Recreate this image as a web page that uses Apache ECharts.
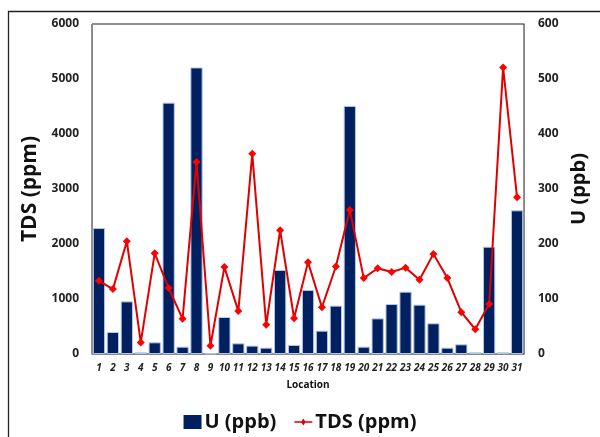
<!DOCTYPE html>
<html><head><meta charset="utf-8">
<script src="https://cdn.jsdelivr.net/npm/echarts@6/dist/echarts.min.js"></script>
<style>html,body{margin:0;padding:0;background:#fff}#c{width:600px;height:437px}</style>
</head><body><div id="c"></div>
<script>
const categories = ['1','2','3','4','5','6','7','8','9','10','11','12','13','14','15','16','17','18','19','20','21','22','23','24','25','26','27','28','29','30','31'];
const uValues = [2290,400,957,30,212,4570,133,5210,10,673,194,152,115,1527,164,1164,424,879,4510,133,648,909,1133,897,558,115,176,30,1951,30,2612];
const tdsValues = [133,118,205,21,183,120,64,349,15,158,78,364,53,225,65,167,85,159,262,138,156,149,157,135,182,138,76,45,91,521,285];
const leftTicks = [0,1000,2000,3000,4000,5000,6000];
const rightTicks = [0,100,200,300,400,500,600];

const chart = echarts.init(document.getElementById('c'));
const font = '"Open Sans", "Noto Sans", sans-serif';
chart.setOption({
  animation:false,
  graphic:[{type:'polyline',shape:{points:[[8.5,437],[8.5,11.5],[600,11.5]]},style:{stroke:'#222',lineWidth:1.3,fill:null}}],
  grid:{left:92,right:76,top:24,bottom:83,show:true,borderColor:'#222',borderWidth:1},
  legend:{bottom:0,left:'center',itemGap:18,textStyle:{fontSize:20,fontWeight:'bold',color:'#111',fontFamily:font,padding:[0,0,0,-2]},
    data:[{name:'U (ppb)',icon:'rect',itemStyle:{borderWidth:0}},
          {name:'TDS (ppm)',icon:'path://M0,6.2L7.2,6.2L9,3.5L10.8,6.2L18,6.2L18,7.8L10.8,7.8L9,10.5L7.2,7.8L0,7.8Z',itemStyle:{borderWidth:0,color:'#e00000'}}],
    itemWidth:18,itemHeight:14},
  xAxis:{type:'category',data:categories,name:'Location',nameLocation:'middle',nameGap:26,
    nameTextStyle:{fontSize:10,fontWeight:'bold',color:'#111',fontFamily:font},
    axisLine:{lineStyle:{color:'#888'}},axisTick:{show:false},
    axisLabel:{fontStyle:'italic',fontWeight:'bold',fontSize:10,color:'#222',interval:0,margin:9,fontFamily:font}},
  yAxis:[
    {type:'value',min:0,max:6000,interval:1000,name:'TDS (ppm)',nameLocation:'middle',nameGap:46,
     nameTextStyle:{fontSize:21,fontWeight:'bold',color:'#111',fontFamily:font},
     axisLine:{show:true,lineStyle:{color:'#888'}},axisTick:{show:false},splitLine:{show:false},
     axisLabel:{fontWeight:'bold',fontSize:12,color:'#222',margin:13,fontFamily:font,
       formatter:v=>leftTicks.includes(v)?String(v):''}},
    {type:'value',min:0,max:600,interval:100,name:'U (ppb)',nameLocation:'middle',nameGap:43,nameRotate:90,
     nameTextStyle:{fontSize:20,fontWeight:'bold',color:'#111',fontFamily:font},
     axisLine:{show:true,lineStyle:{color:'#888'}},axisTick:{show:false},splitLine:{show:false},
     axisLabel:{fontWeight:'bold',fontSize:12,color:'#222',margin:14,fontFamily:font,
       formatter:v=>rightTicks.includes(v)?String(v):''}}
  ],
  series:[
    {name:'U (ppb)',type:'bar',data:uValues,yAxisIndex:0,barCategoryGap:'12%',
     itemStyle:{color:'#002060',borderColor:'#b4c7e7',borderWidth:1}},
    {name:'TDS (ppm)',type:'line',data:tdsValues,yAxisIndex:1,symbol:'diamond',symbolSize:8,
     lineStyle:{color:'#e00000',width:2},itemStyle:{color:'#ff0000'}}
  ]
});
</script></body></html>
